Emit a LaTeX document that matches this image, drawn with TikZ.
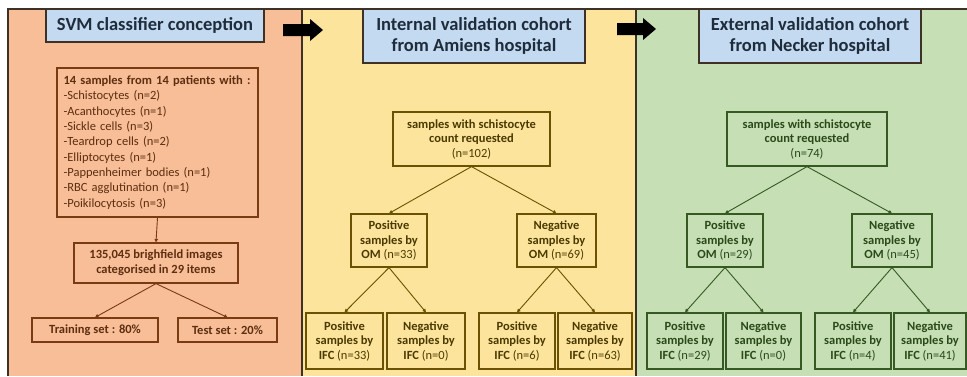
\documentclass[tikz,border=0pt]{standalone}
\usepackage{fontspec}
\setmainfont{Carlito}
\usetikzlibrary{arrows.meta}
\definecolor{pOrange}{HTML}{F7BE97}
\definecolor{pYellow}{HTML}{FDE49C}
\definecolor{pGreen}{HTML}{C6DFB5}
\definecolor{pBorder}{HTML}{3E3226}
\definecolor{tFill}{HTML}{C3DAF0}
\definecolor{tText}{HTML}{1E2C3C}
\definecolor{cOrange}{HTML}{7A3A12}
\definecolor{tOrange}{HTML}{5E2E10}
\definecolor{cYellow}{HTML}{6A5200}
\definecolor{tYellow}{HTML}{4A3A00}
\definecolor{cGreen}{HTML}{355A22}
\definecolor{tGreen}{HTML}{2A4A1A}
\tikzset{
  titlebox/.style={draw=pBorder, fill=tFill, line width=1.3pt, inner sep=0pt, align=center,
    text=tText, font=\fontsize{18.5}{21}\selectfont\bfseries},
  stdbox/.style={draw=#1, line width=1.2pt, inner sep=0pt, align=center,
    font=\fontsize{12.5}{14.5}\selectfont},
  obox/.style={stdbox=cOrange, text=tOrange},
  ybox/.style={stdbox=cYellow, text=tYellow},
  gbox/.style={stdbox=cGreen, text=tGreen},
  conn/.style={draw=#1, line width=0.9pt, -{Triangle[length=3.5pt,width=3.5pt]}},
  blockarrow/.style={fill=black}
}
\begin{document}
\begin{tikzpicture}[x=1pt,y=-1pt]
\useasboundingbox (0,0) rectangle (967,376);
\fill[white] (0,0) rectangle (967,376);
% panels
\fill[pOrange] (8,9) rectangle (302,376);
\fill[pYellow] (302,9) rectangle (636,376);
\fill[pGreen] (636,9) rectangle (967,376);
\draw[pBorder, line width=1.5pt] (8,376) -- (8,9) -- (967,9);
\draw[pBorder, line width=1.5pt] (302,9) -- (302,376);
\draw[pBorder, line width=1.5pt] (636,9) -- (636,376);
% block arrows
\fill[blockarrow] (283,24) -- (310,24) -- (310,19) -- (323,30) -- (310,41) -- (310,36) -- (283,36) -- cycle;
\fill[blockarrow] (617,23) -- (643,23) -- (643,18) -- (656,29) -- (643,40) -- (643,35) -- (617,35) -- cycle;
% titles
\node[titlebox, minimum width=218pt, minimum height=33pt] (t1) at (155,25.5) {SVM classifier conception};
\node[titlebox, minimum width=222pt, minimum height=54pt] (t2) at (474,36) {Internal validation cohort\\from Amiens hospital};
\node[titlebox, minimum width=222pt, minimum height=54pt] (t3) at (810,36) {External validation cohort\\from Necker hospital};
% panel 1
\node[obox, minimum width=201pt, minimum height=149pt, align=left, text width=188pt, font=\fontsize{12.5}{15.3}\selectfont] (s14) at (157.5,142.5) {\textbf{14 samples from 14 patients with :}\\
-Schistocytes (n=2)\\
-Acanthocytes (n=1)\\
-Sickle cells (n=3)\\
-Teardrop cells (n=2)\\
-Elliptocytes (n=1)\\
-Pappenheimer bodies (n=1)\\
-RBC agglutination (n=1)\\
-Poikilocytosis (n=3)};
\node[obox, minimum width=164pt, minimum height=40pt, font=\fontsize{12.5}{15}\selectfont\bfseries] (img) at (156,263) {135,045 brighfield images\\categorised in 29 items};
\node[obox, minimum width=126pt, minimum height=24pt, font=\fontsize{12.5}{15}\selectfont\bfseries] (train) at (95,330) {Training set : 80\%};
\node[obox, minimum width=99pt, minimum height=24pt, font=\fontsize{12.5}{15}\selectfont\bfseries] (test) at (227.5,330) {Test set : 20\%};
\draw[conn=cOrange] (s14.south) -- (img.north);
\draw[conn=cOrange] (img.south) -- (train.north);
\draw[conn=cOrange] (img.south) -- (test.north);
% panel 2
\node[ybox, minimum width=157pt, minimum height=54pt] (top2) at (471.5,139) {\textbf{samples with schistocyte}\\\textbf{count requested}\\(n=102)};
\node[ybox, minimum width=76pt, minimum height=53pt] (pos2) at (389,240.5) {\textbf{Positive}\\\textbf{samples by}\\\textbf{OM} (n=33)};
\node[ybox, minimum width=79pt, minimum height=53pt] (neg2) at (556.5,240.5) {\textbf{Negative}\\\textbf{samples by}\\\textbf{OM} (n=69)};
\node[ybox, minimum width=77pt, minimum height=56pt] (b21) at (344.5,341) {\textbf{Positive}\\\textbf{samples by}\\\textbf{IFC} (n=33)};
\node[ybox, minimum width=78pt, minimum height=56pt] (b22) at (426,341) {\textbf{Negative}\\\textbf{samples by}\\\textbf{IFC} (n=0)};
\node[ybox, minimum width=76pt, minimum height=56pt] (b23) at (517,341) {\textbf{Positive}\\\textbf{samples by}\\\textbf{IFC} (n=6)};
\node[ybox, minimum width=74pt, minimum height=56pt] (b24) at (595,341) {\textbf{Negative}\\\textbf{samples by}\\\textbf{IFC} (n=63)};
\draw[conn=cYellow] (top2.south) -- (pos2.north);
\draw[conn=cYellow] (top2.south) -- (neg2.north);
\draw[conn=cYellow] (pos2.south) -- (b21.north);
\draw[conn=cYellow] (pos2.south) -- (b22.north);
\draw[conn=cYellow] (neg2.south) -- (b23.north);
\draw[conn=cYellow] (neg2.south) -- (b24.north);
% panel 3
\node[gbox, minimum width=160pt, minimum height=54pt] (top3) at (807,139) {\textbf{samples with schistocyte}\\\textbf{count requested}\\(n=74)};
\node[gbox, minimum width=76pt, minimum height=53pt] (pos3) at (725,240.5) {\textbf{Positive}\\\textbf{samples by}\\\textbf{OM} (n=29)};
\node[gbox, minimum width=80pt, minimum height=53pt] (neg3) at (892,240.5) {\textbf{Negative}\\\textbf{samples by}\\\textbf{OM} (n=45)};
\node[gbox, minimum width=76pt, minimum height=56pt] (b31) at (685,341) {\textbf{Positive}\\\textbf{samples by}\\\textbf{IFC} (n=29)};
\node[gbox, minimum width=75pt, minimum height=56pt] (b32) at (763.5,341) {\textbf{Negative}\\\textbf{samples by}\\\textbf{IFC} (n=0)};
\node[gbox, minimum width=76pt, minimum height=56pt] (b33) at (853,341) {\textbf{Positive}\\\textbf{samples by}\\\textbf{IFC} (n=4)};
\node[gbox, minimum width=72pt, minimum height=56pt] (b34) at (930,341) {\textbf{Negative}\\\textbf{samples by}\\\textbf{IFC} (n=41)};
\draw[conn=cGreen] (top3.south) -- (pos3.north);
\draw[conn=cGreen] (top3.south) -- (neg3.north);
\draw[conn=cGreen] (pos3.south) -- (b31.north);
\draw[conn=cGreen] (pos3.south) -- (b32.north);
\draw[conn=cGreen] (neg3.south) -- (b33.north);
\draw[conn=cGreen] (neg3.south) -- (b34.north);
\end{tikzpicture}
\end{document}
